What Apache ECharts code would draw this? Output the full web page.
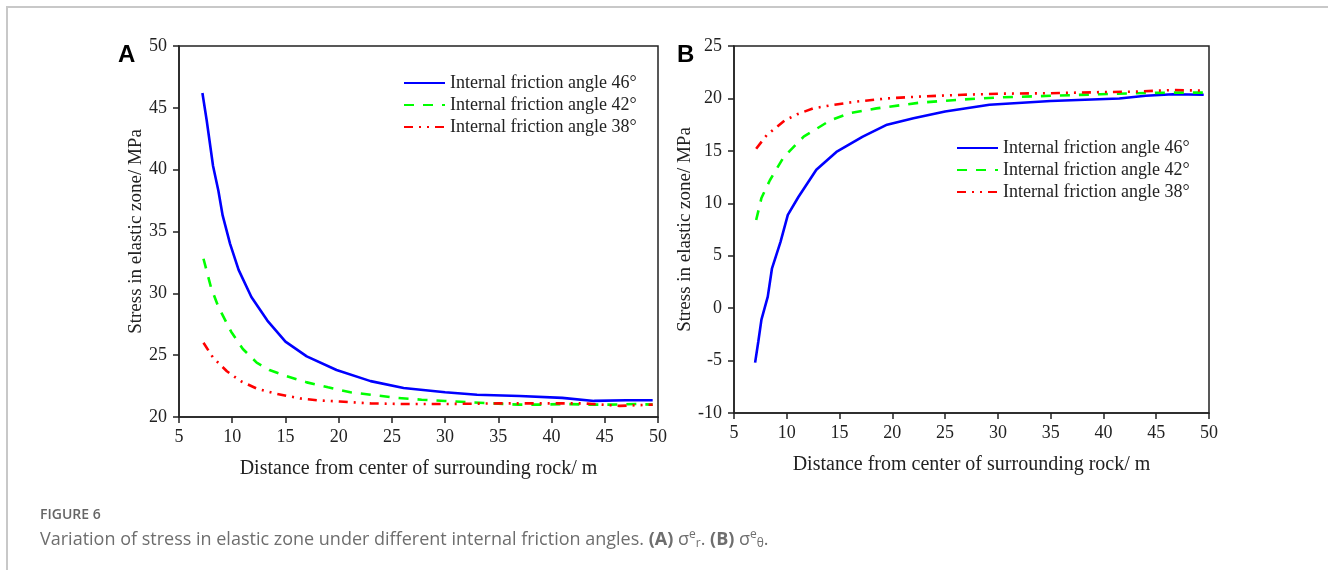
<!DOCTYPE html>
<html><head><meta charset="utf-8">
<script src="https://cdn.jsdelivr.net/npm/echarts@6/dist/echarts.min.js"></script>
<style>html,body{margin:0;padding:0;background:#fff}#c{width:1328px;height:570px}</style>
</head><body><div id="c"></div>
<script>
const seriesNames = ['Internal friction angle 46°','Internal friction angle 42°','Internal friction angle 38°'];
const xTicks = [5,10,15,20,25,30,35,40,45,50];
// Panel A: sigma_r (x = distance m, y = stress MPa)
const A_46 = [[7.2,46.2],[7.6,44.0],[8.2,40.3],[8.7,38.3],[9.1,36.3],[9.8,34.0],[10.6,31.9],[11.8,29.7],[13.3,27.8],[15.0,26.1],[17.0,24.9],[19.8,23.8],[23.0,22.9],[26.1,22.35],[30.0,22.0],[33.0,21.8],[37.0,21.7],[41.0,21.55],[44.0,21.3],[47.0,21.35],[49.5,21.35]];
const A_42 = [[7.3,32.8],[8.0,30.5],[8.7,28.9],[9.9,26.9],[11.0,25.5],[12.3,24.4],[13.5,23.8],[15.1,23.3],[17.0,22.8],[19.0,22.4],[21.1,22.0],[23.0,21.8],[25.5,21.55],[27.8,21.4],[30.0,21.3],[32.2,21.2],[34.5,21.1],[36.9,21.0],[39.1,21.0],[41.3,21.05],[43.4,21.0],[45.5,21.0],[48.0,21.05],[49.5,21.0]];
const A_38 = [[7.3,26.0],[8.2,24.8],[9.5,23.7],[10.8,22.9],[12.3,22.3],[14.0,21.9],[16.4,21.5],[18.0,21.35],[20.1,21.25],[23.0,21.1],[26.0,21.05],[30.0,21.05],[35.0,21.1],[40.0,21.1],[43.0,21.1],[46.4,20.9],[49.5,21.0]];
// Panel B: sigma_theta
const B_46 = [[7.0,-5.2],[7.3,-3.2],[7.6,-1.1],[8.2,1.1],[8.6,3.8],[9.4,6.3],[10.1,8.9],[11.1,10.6],[12.8,13.2],[14.7,14.9],[17.2,16.35],[19.5,17.5],[22.0,18.1],[25.0,18.75],[29.2,19.4],[35.0,19.75],[41.5,20.0],[44.0,20.25],[46.6,20.4],[49.5,20.35]];
const B_42 = [[7.1,8.4],[7.6,10.5],[8.4,12.2],[9.7,14.4],[11.6,16.35],[14.1,17.9],[16.0,18.6],[18.5,19.05],[22.6,19.6],[26.7,19.9],[30.2,20.1],[35.0,20.25],[39.7,20.4],[43.0,20.5],[46.6,20.55],[49.5,20.55]];
const B_38 = [[7.1,15.2],[8.1,16.5],[9.8,17.9],[11.0,18.5],[12.5,19.05],[14.5,19.4],[16.6,19.7],[19.5,20.0],[23.0,20.2],[26.7,20.35],[30.2,20.45],[35.0,20.5],[39.7,20.6],[43.0,20.65],[46.6,20.8],[49.5,20.75]];
const yTicksA = [20,25,30,35,40,45,50];
const yTicksB = [-10,-5,0,5,10,15,20,25];
const xName = 'Distance from center of surrounding rock/ m';
const yName = 'Stress in elastic zone/ MPa';

const serif = 'Liberation Serif';
const axisCol = '#222';
const styles = [
  {color:'#0000ff', width:2.6, type:'solid'},
  {color:'#00ff00', width:2.6, type:[10,9]},
  {color:'#ff0000', width:2.6, type:[9,6,2,6,2,6]}
];
function xAxis(gi){
  return {type:'value', gridIndex:gi, min:xTicks[0], max:xTicks[xTicks.length-1], interval:5,
    name:xName, nameLocation:'middle', nameGap:42,
    nameTextStyle:{fontFamily:serif, fontSize:20, color:axisCol},
    axisLine:{show:true, onZero:false, lineStyle:{color:axisCol, width:1.5}},
    axisTick:{show:true, length:6, lineStyle:{color:axisCol, width:1.5}},
    axisLabel:{fontFamily:serif, fontSize:18, color:axisCol, margin:11},
    splitLine:{show:false}};
}
function yAxis(gi, ticks, gap){
  return {type:'value', gridIndex:gi, min:ticks[0], max:ticks[ticks.length-1], interval:5,
    name:yName, nameLocation:'middle', nameGap:gap,
    nameTextStyle:{fontFamily:serif, fontSize:19, color:axisCol},
    axisLine:{show:true, onZero:false, lineStyle:{color:axisCol, width:1.5}},
    axisTick:{show:true, length:6, lineStyle:{color:axisCol, width:1.5}},
    axisLabel:{fontFamily:serif, fontSize:18, color:axisCol, margin:12},
    splitLine:{show:false}};
}
function mk(name, data, i, gi){
  return {name:name, type:'line', xAxisIndex:gi, yAxisIndex:gi, data:data, symbol:'none', smooth:false,
    lineStyle:styles[i], itemStyle:{color:styles[i].color}, animation:false};
}
function legend(left, top){
  return {left:left, top:top, orient:'vertical', padding:0, itemWidth:41, itemHeight:12, itemGap:2,
    data:seriesNames, itemStyle:{opacity:0},
    textStyle:{fontFamily:serif, fontSize:18, color:axisCol, lineHeight:20}};
}
const chart = echarts.init(document.getElementById('c'), null, {renderer:'canvas'});
chart.setOption({
  backgroundColor:'#fff',
  animation:false,
  grid:[
    {left:179, top:46, width:479, height:371, show:true, borderColor:axisCol, borderWidth:1.5, backgroundColor:'transparent'},
    {left:734, top:46, width:475, height:367, show:true, borderColor:axisCol, borderWidth:1.5, backgroundColor:'transparent'}
  ],
  xAxis:[xAxis(0), xAxis(1)],
  yAxis:[yAxis(0, yTicksA, 33), yAxis(1, yTicksB, 38)],
  legend:[legend(403, 73), legend(956, 138)],
  series:[
    mk(seriesNames[0], A_46, 0, 0), mk(seriesNames[1], A_42, 1, 0), mk(seriesNames[2], A_38, 2, 0),
    mk(seriesNames[0], B_46, 0, 1), mk(seriesNames[1], B_42, 1, 1), mk(seriesNames[2], B_38, 2, 1)
  ],
  graphic:[
    {type:'line', shape:{x1:6, y1:7, x2:1328, y2:7}, style:{stroke:'#c8c8c8', lineWidth:2}},
    {type:'line', shape:{x1:7, y1:6, x2:7, y2:570}, style:{stroke:'#c8c8c8', lineWidth:2}},
    {type:'text', left:118, top:43, style:{text:'A', font:'bold 24px Liberation Sans', fill:'#000'}},
    {type:'text', left:677, top:43, style:{text:'B', font:'bold 24px Liberation Sans', fill:'#000'}},
    {type:'text', left:40, top:508, style:{text:'FIGURE 6', font:'600 14px Open Sans', fill:'#666'}},
    {type:'text', left:40, top:529, style:{
      text:'Variation of stress in elastic zone under different internal friction angles. {b|(A)} σ{sup|e}{sub|r}. {b|(B)} σ{sup|e}{sub|θ}.',
      font:'18px Open Sans', fill:'#6e6e6e',
      rich:{
        b:{fontFamily:'Open Sans', fontSize:18, fontWeight:'bold', fill:'#6e6e6e'},
        sup:{fontFamily:'Open Sans', fontSize:12, fill:'#6e6e6e', padding:[0,0,9,0]},
        sub:{fontFamily:'Open Sans', fontSize:12, fill:'#6e6e6e', padding:[9,0,0,0]}
      }}}
  ]
});
</script></body></html>
